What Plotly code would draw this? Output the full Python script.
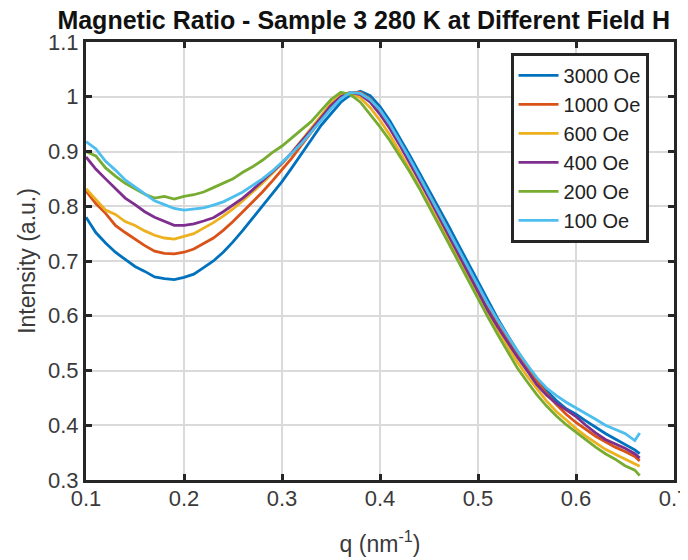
import plotly.graph_objects as go

q = [0.10, 0.11, 0.12, 0.13, 0.14, 0.15, 0.16, 0.17, 0.18, 0.19,
     0.20, 0.21, 0.22, 0.23, 0.24, 0.25, 0.26, 0.27, 0.28, 0.29,
     0.30, 0.31, 0.32, 0.33, 0.34, 0.35, 0.36, 0.37, 0.38, 0.39,
     0.40, 0.41, 0.42, 0.43, 0.44, 0.45, 0.46, 0.47, 0.48, 0.49,
     0.50, 0.51, 0.52, 0.53, 0.54, 0.55, 0.56, 0.57, 0.58, 0.59,
     0.60, 0.61, 0.62, 0.63, 0.64, 0.65, 0.66, 0.665]

h3000 = [0.780, 0.752, 0.733, 0.716, 0.703, 0.690, 0.681, 0.671, 0.668, 0.666,
         0.670, 0.676, 0.688, 0.700, 0.716, 0.735, 0.756, 0.778, 0.800, 0.822,
         0.845, 0.870, 0.895, 0.922, 0.948, 0.970, 0.990, 1.004, 1.010, 1.002,
         0.982, 0.956, 0.926, 0.894, 0.862, 0.830, 0.797, 0.764, 0.730, 0.696,
         0.662, 0.628, 0.595, 0.565, 0.536, 0.510, 0.485, 0.463, 0.445, 0.430,
         0.420, 0.408, 0.396, 0.385, 0.375, 0.365, 0.355, 0.348]

h1000 = [0.828, 0.805, 0.787, 0.765, 0.752, 0.740, 0.728, 0.718, 0.714, 0.713,
         0.716, 0.722, 0.732, 0.742, 0.756, 0.772, 0.790, 0.808, 0.826, 0.846,
         0.866, 0.888, 0.912, 0.936, 0.960, 0.982, 0.998, 1.008, 1.008, 0.996,
         0.975, 0.948, 0.918, 0.886, 0.854, 0.822, 0.789, 0.755, 0.720, 0.685,
         0.650, 0.617, 0.586, 0.557, 0.530, 0.504, 0.480, 0.458, 0.438, 0.420,
         0.405, 0.392, 0.380, 0.370, 0.360, 0.352, 0.343, 0.335]

h600 = [0.832, 0.812, 0.793, 0.785, 0.772, 0.765, 0.755, 0.747, 0.742, 0.740,
        0.745, 0.750, 0.760, 0.770, 0.782, 0.795, 0.810, 0.826, 0.842, 0.860,
        0.878, 0.898, 0.920, 0.944, 0.966, 0.988, 1.004, 1.008, 0.998, 0.980,
        0.957, 0.930, 0.900, 0.868, 0.836, 0.806, 0.773, 0.740, 0.706, 0.672,
        0.638, 0.605, 0.574, 0.545, 0.516, 0.490, 0.466, 0.444, 0.425, 0.409,
        0.394, 0.380, 0.368, 0.356, 0.347, 0.338, 0.330, 0.325]

h400 = [0.890, 0.868, 0.850, 0.832, 0.815, 0.803, 0.790, 0.780, 0.772, 0.765,
        0.765, 0.768, 0.773, 0.779, 0.790, 0.802, 0.815, 0.830, 0.846, 0.862,
        0.879, 0.898, 0.918, 0.940, 0.962, 0.984, 1.000, 1.008, 1.004, 0.990,
        0.968, 0.942, 0.912, 0.880, 0.847, 0.815, 0.781, 0.747, 0.712, 0.678,
        0.644, 0.610, 0.580, 0.552, 0.525, 0.500, 0.474, 0.455, 0.440, 0.428,
        0.416, 0.400, 0.386, 0.374, 0.366, 0.358, 0.348, 0.340]

h200 = [0.900, 0.892, 0.870, 0.855, 0.842, 0.832, 0.822, 0.815, 0.818, 0.813,
        0.818, 0.821, 0.826, 0.834, 0.842, 0.850, 0.862, 0.872, 0.884, 0.898,
        0.910, 0.925, 0.940, 0.955, 0.975, 0.995, 1.008, 1.004, 0.990, 0.968,
        0.945, 0.920, 0.893, 0.864, 0.833, 0.800, 0.767, 0.733, 0.699, 0.665,
        0.631, 0.598, 0.566, 0.535, 0.505, 0.480, 0.456, 0.435, 0.417, 0.401,
        0.387, 0.373, 0.360, 0.348, 0.338, 0.326, 0.318, 0.308]

h100 = [0.918, 0.905, 0.882, 0.866, 0.848, 0.835, 0.822, 0.810, 0.803, 0.796,
        0.793, 0.795, 0.797, 0.802, 0.808, 0.817, 0.826, 0.838, 0.850, 0.864,
        0.880, 0.897, 0.915, 0.935, 0.957, 0.978, 0.996, 1.008, 1.006, 0.995,
        0.976, 0.950, 0.920, 0.888, 0.855, 0.822, 0.789, 0.756, 0.722, 0.688,
        0.655, 0.622, 0.592, 0.563, 0.536, 0.511, 0.487, 0.468, 0.454, 0.442,
        0.432, 0.421, 0.411, 0.400, 0.392, 0.385, 0.372, 0.386]

series_names = ["3000 Oe", "1000 Oe", "600 Oe", "400 Oe", "200 Oe", "100 Oe"]
series_values = [h3000, h1000, h600, h400, h200, h100]
series_colors = ["#0072BD", "#D95319", "#EDB120", "#7E2F8E", "#77AC30", "#4DBEEE"]

x_ticks = [0.1, 0.2, 0.3, 0.4, 0.5, 0.6, 0.7]
x_tick_text = ["0.1", "0.2", "0.3", "0.4", "0.5", "0.6", "0.7"]
y_ticks = [0.3, 0.4, 0.5, 0.6, 0.7, 0.8, 0.9, 1.0, 1.1]
y_tick_text = ["0.3", "0.4", "0.5", "0.6", "0.7", "0.8", "0.9", "1", "1.1"]

FONT = "Liberation Sans, Arial, sans-serif"

fig = go.Figure()
for name, vals, col in zip(series_names, series_values, series_colors):
    fig.add_trace(go.Scatter(x=q, y=vals, mode="lines", name=name,
                             line=dict(color=col, width=2.8)))

axis_common = dict(
    showline=True, linecolor="#262626", linewidth=3, mirror="ticks",
    ticks="inside", ticklen=6, tickwidth=2.5, tickcolor="#262626",
    showgrid=True, gridcolor="#dadada", gridwidth=1.5,
    zeroline=False, automargin=False,
    tickfont=dict(family=FONT, size=22, color="#3a3a3a"),
)

# the page body has an 8px default margin, so margins are offset to compensate
fig.update_layout(
    width=688, height=560,
    margin=dict(l=78, r=22, t=34, b=88),
    paper_bgcolor="white", plot_bgcolor="white",
    title=dict(text="<b>Magnetic Ratio - Sample 3 280 K at Different Field H</b>",
               x=0.517, xanchor="center", y=0.979, yanchor="middle",
               font=dict(family=FONT, size=25, color="#111111"),
               automargin=False),
    xaxis=dict(range=[0.1, 0.7], tickvals=x_ticks, ticktext=x_tick_text,
               ticklabelstandoff=-3,
               title=dict(text="q (nm<sup>-1</sup>)", standoff=26,
                          font=dict(family=FONT, size=23, color="#3a3a3a")),
               **axis_common),
    yaxis=dict(range=[0.3, 1.1], tickvals=y_ticks, ticktext=y_tick_text,
               title=dict(text="Intensity (a.u.)", standoff=6,
                          font=dict(family=FONT, size=23, color="#3a3a3a")),
               **axis_common),
    legend=dict(x=0.722, y=0.975, xanchor="left", yanchor="top",
                bgcolor="white", bordercolor="#262626", borderwidth=3,
                font=dict(family=FONT, size=20, color="#222222"),
                itemwidth=40, tracegroupgap=0),
    showlegend=True,
)

fig.write_html("out.html")
